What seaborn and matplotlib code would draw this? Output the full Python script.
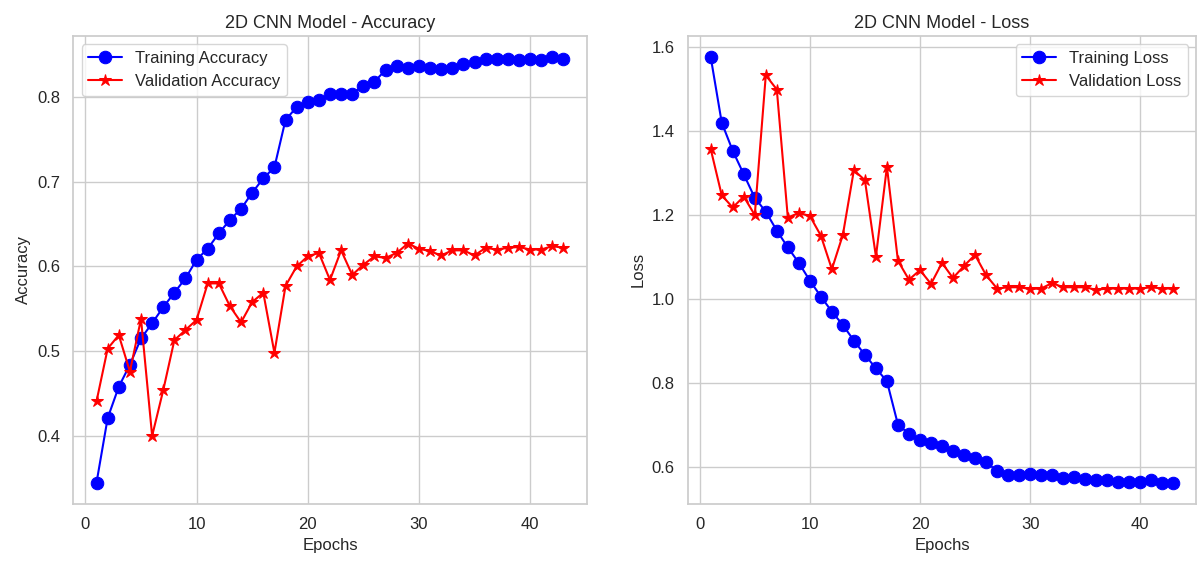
import numpy as np
import pandas as pd
import seaborn as sns
from matplotlib import pyplot as plt

epochs = list(range(1, 44))

train_acc = [0.345, 0.421, 0.458, 0.484, 0.515, 0.533, 0.552, 0.569, 0.586, 0.608,
             0.621, 0.639, 0.655, 0.668, 0.687, 0.704, 0.717, 0.773, 0.788, 0.794,
             0.796, 0.803, 0.804, 0.804, 0.813, 0.818, 0.832, 0.836, 0.834, 0.837,
             0.834, 0.833, 0.834, 0.839, 0.841, 0.845, 0.845, 0.845, 0.844, 0.845,
             0.844, 0.847, 0.845]
val_acc = [0.441, 0.503, 0.519, 0.476, 0.538, 0.400, 0.454, 0.513, 0.525, 0.537,
           0.580, 0.580, 0.553, 0.534, 0.558, 0.569, 0.498, 0.577, 0.600, 0.612,
           0.616, 0.584, 0.619, 0.590, 0.602, 0.612, 0.610, 0.616, 0.627, 0.621,
           0.618, 0.613, 0.619, 0.619, 0.613, 0.622, 0.620, 0.622, 0.623, 0.620,
           0.620, 0.624, 0.622]

train_loss = [1.576, 1.420, 1.353, 1.297, 1.241, 1.208, 1.163, 1.123, 1.086, 1.044,
              1.006, 0.970, 0.938, 0.901, 0.867, 0.835, 0.804, 0.701, 0.679, 0.665,
              0.658, 0.651, 0.638, 0.629, 0.622, 0.612, 0.590, 0.582, 0.580, 0.584,
              0.580, 0.580, 0.574, 0.576, 0.572, 0.568, 0.568, 0.564, 0.564, 0.564,
              0.569, 0.563, 0.563]
val_loss = [1.357, 1.247, 1.218, 1.244, 1.200, 1.533, 1.499, 1.194, 1.205, 1.198,
            1.151, 1.071, 1.153, 1.307, 1.283, 1.101, 1.315, 1.091, 1.046, 1.069,
            1.036, 1.086, 1.050, 1.079, 1.105, 1.057, 1.025, 1.028, 1.028, 1.024,
            1.025, 1.038, 1.028, 1.028, 1.028, 1.022, 1.025, 1.025, 1.025, 1.025,
            1.028, 1.025, 1.025]

sns.set_theme(style='whitegrid')
plt.rcParams['font.family'] = ['Liberation Sans', 'DejaVu Sans']

df = pd.DataFrame({'epoch': epochs, 'train_acc': train_acc, 'val_acc': val_acc,
                   'train_loss': train_loss, 'val_loss': val_loss})

fig, (ax1, ax2) = plt.subplots(1, 2, figsize=(12, 5.61), dpi=100)
fig.subplots_adjust(left=0.061, right=0.997, bottom=0.102, top=0.936, wspace=0.2)


def draw(ax, col_t, col_v, lab_t, lab_v, title, ylab, loc):
    sns.lineplot(data=df, x='epoch', y=col_t, ax=ax, color='blue', marker='o',
                 markersize=9, markeredgecolor='blue', linewidth=1.5, label=lab_t)
    sns.lineplot(data=df, x='epoch', y=col_v, ax=ax, color='red', marker='*',
                 markersize=9, markeredgecolor='red', linewidth=1.5, label=lab_v)
    ax.set_title(title, fontsize=13)
    ax.set_xlabel('Epochs', fontsize=12)
    ax.set_ylabel(ylab, fontsize=12)
    ax.tick_params(labelsize=12)
    ax.legend(loc=loc, fontsize=12)


draw(ax1, 'train_acc', 'val_acc', 'Training Accuracy', 'Validation Accuracy',
     '2D CNN Model - Accuracy', 'Accuracy', 'upper left')
draw(ax2, 'train_loss', 'val_loss', 'Training Loss', 'Validation Loss',
     '2D CNN Model - Loss', 'Loss', 'upper right')

# left panel is a bit narrower than the right one in the reference
p1 = ax1.get_position()
ax1.set_position([p1.x0, p1.y0, 0.428, p1.height])
p2 = ax2.get_position()
ax2.set_position([0.573, p2.y0, 0.997 - 0.573, p2.height])

plt.savefig('out.png', dpi=100)
